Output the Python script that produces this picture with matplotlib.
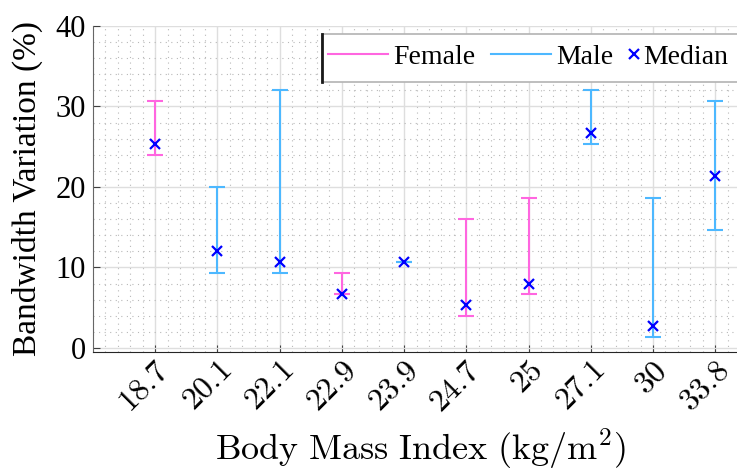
import numpy as np
import matplotlib.pyplot as plt
from matplotlib.lines import Line2D
from matplotlib.patches import Rectangle

plt.rcParams['font.family'] = 'Liberation Serif'
plt.rcParams['mathtext.fontset'] = 'cm'

# BMI categories and bandwidth variation range (%)
bmi = ['18.7', '20.1', '22.1', '22.9', '23.9', '24.7', '25', '27.1', '30', '33.8']
gender = ['F', 'M', 'M', 'F', 'M', 'F', 'F', 'M', 'M', 'M']
low = [24.0, 9.33, 9.33, 6.67, 10.67, 4.0, 6.67, 25.33, 1.33, 14.67]
high = [30.67, 20.0, 32.0, 9.33, 10.67, 16.0, 18.67, 32.0, 18.67, 30.67]
median = [25.33, 12.0, 10.67, 6.67, 10.67, 5.33, 8.0, 26.67, 2.67, 21.33]

pink = '#ff66e0'
blue = '#4db8ff'

fig = plt.figure(figsize=(7.37, 4.70), dpi=100)
ax = fig.add_axes([93/737, 1-352/470, 1-93/737, (352-26)/470])

x = np.arange(1, len(bmi)+1)
low = np.array(low); high = np.array(high); median = np.array(median)
isf = np.array([g == 'F' for g in gender])

for mask, col in [(isf, pink), (~isf, blue)]:
    ax.errorbar(x[mask], median[mask],
                yerr=[median[mask]-low[mask], high[mask]-median[mask]],
                fmt='none', ecolor=col, elinewidth=1.5, capsize=6, capthick=1.5, zorder=3)
ax.plot(x, median, 'x', color='blue', ms=7, mew=1.6, zorder=4)

ax.set_xlim(0, 10.35)
ax.set_ylim(-0.5, 40)
ax.set_yticks([0, 10, 20, 30, 40])
ax.set_xticks(x)
ax.set_xticklabels(['$' + b + '$' for b in bmi], rotation=45, ha='right', va='top',
                   rotation_mode='anchor', fontsize=23)
ax.set_xticks(np.arange(0, 10.35, 0.2), minor=True)
ax.set_yticks(np.arange(0, 40.1, 2), minor=True)
ax.tick_params(axis='y', labelsize=22, pad=5)
ax.tick_params(which='both', direction='in', color='0.25')
ax.tick_params(which='major', length=5)
ax.tick_params(which='minor', length=0)
ax.tick_params(axis='x', pad=3)

ax.grid(which='major', color='0.87', lw=1)
ax.grid(which='minor', color='0.72', lw=0.8, ls=(0, (1, 4)))
ax.set_axisbelow(True)
for s in ['top', 'right']:
    ax.spines[s].set_visible(False)
ax.spines['left'].set_color('0.4')
ax.spines['bottom'].set_color('0.15')

ax.set_ylabel('Bandwidth Variation (%)', fontsize=24, labelpad=9)
ax.set_xlabel(r'$\mathrm{Body\ Mass\ Index\ (kg/m^2)}$', fontsize=26)
ax.xaxis.set_label_coords(0.508, -0.23)

# legend box
fig.add_artist(Rectangle((322/737, 1-82/470), 0.6, 48/470, transform=fig.transFigure,
                         facecolor='white', edgecolor='0.7', lw=1.2, zorder=2))
fig.add_artist(Line2D([322/737, 322/737], [1-82/470, 1-34/470], transform=fig.transFigure,
                      color='0.1', lw=2, zorder=3))
h1 = [Line2D([], [], color=pink, lw=1.5), Line2D([], [], color=blue, lw=1.5)]
fig.legend(h1, ['Female', 'Male'], ncol=2, loc='center left',
           bbox_to_anchor=(328/737, 1-57/470), frameon=False, fontsize=20,
           handlelength=2.16, handletextpad=0.2, columnspacing=0.55,
           borderpad=0, borderaxespad=0)
h2 = [Line2D([], [], color='blue', marker='x', ls='none', ms=7, mew=1.6)]
fig.legend(h2, ['Median'], loc='center left', bbox_to_anchor=(628/737, 1-57/470),
           frameon=False, fontsize=20, handlelength=0.4, handletextpad=0.15,
           borderpad=0, borderaxespad=0)

fig.savefig('out.png', dpi=100)
